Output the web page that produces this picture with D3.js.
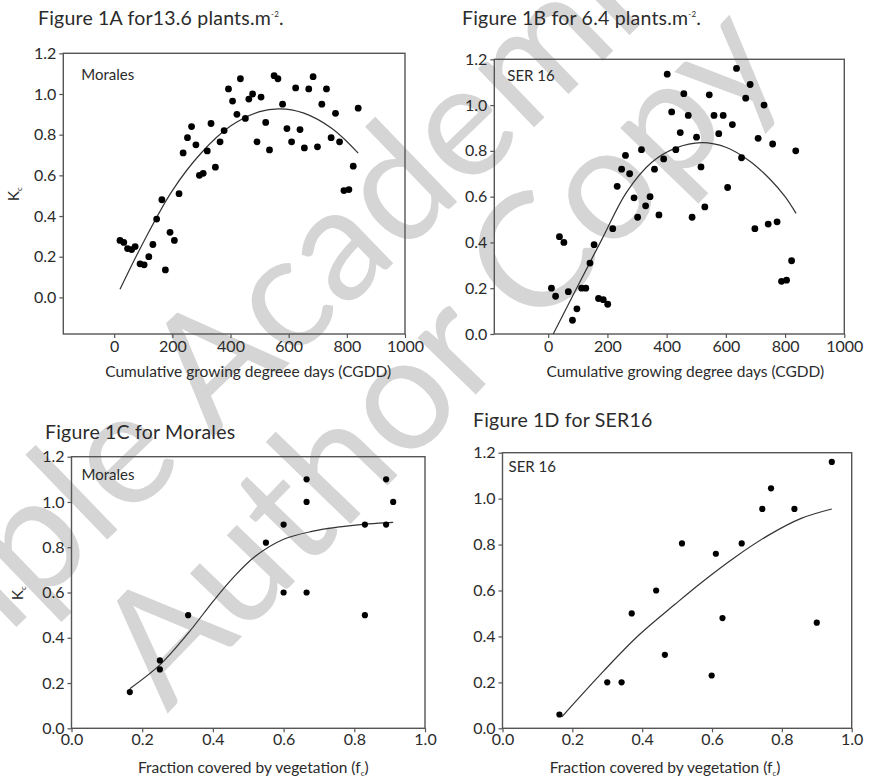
<!DOCTYPE html>
<html>
<head>
<meta charset="utf-8">
<script src="https://cdn.jsdelivr.net/npm/d3@7"></script>
<style>
  body { margin: 0; background: #fff; }
  svg { display: block; }
  text { font-family: Lato, "Open Sans", sans-serif; fill: #2b2b2b; }
</style>
</head>
<body>
<svg id="chart" width="869" height="779"></svg>
<script>

// ---- data ----
var kcTicks = [0, 0.2, 0.4, 0.6, 0.8, 1.0, 1.2];
var cgddTicks = [0, 200, 400, 600, 800, 1000];
var fcTicks = [0, 0.2, 0.4, 0.6, 0.8, 1.0];

// Figure 1A, Morales, 13.6 plants/m2
var cgddA = [20, 33, 46, 60, 72, 89, 103, 119, 133, 146, 164, 176, 192, 207, 223, 237, 252, 266, 281, 293,
  306, 320, 333, 348, 364, 378, 393, 407, 422, 434, 451, 463, 476, 491, 505, 521, 534, 550, 563, 579,
  594, 610, 624, 639, 654, 669, 684, 699, 714, 730, 746, 761, 775, 790, 807, 822, 839];
var kcA = [0.28, 0.27, 0.24, 0.235, 0.25, 0.165, 0.16, 0.20, 0.26, 0.385, 0.48, 0.135, 0.32, 0.28, 0.51, 0.71, 0.785, 0.84, 0.75, 0.60,
  0.61, 0.72, 0.855, 0.64, 0.765, 0.82, 1.025, 0.965, 0.90, 1.075, 0.88, 0.975, 1.0, 0.765, 0.985, 0.86, 0.725, 1.09, 1.075, 0.95,
  0.83, 0.765, 1.03, 0.825, 0.735, 1.025, 1.085, 0.74, 0.95, 1.025, 0.785, 0.905, 0.765, 0.525, 0.53, 0.645, 0.93];
var fitAx = [20, 100, 200, 300, 400, 500, 569, 650, 750, 839];
var fitAy = [0.04, 0.27, 0.525, 0.711, 0.842, 0.913, 0.927, 0.907, 0.829, 0.709];

// Figure 1B, SER 16, 6.4 plants/m2
var cgddB = [11, 25, 38, 53, 68, 82, 97, 113, 127, 141, 155, 170, 186, 201, 218, 233, 248, 261, 275, 290,
  302, 315, 329, 344, 359, 374, 390, 402, 417, 431, 446, 458, 473, 486, 501, 516, 529, 544, 560, 576,
  591, 606, 622, 636, 653, 667, 682, 698, 709, 729, 743, 758, 773, 788, 805, 822, 836];
var kcB = [0.20, 0.165, 0.425, 0.40, 0.185, 0.06, 0.11, 0.20, 0.20, 0.31, 0.39, 0.155, 0.15, 0.13, 0.46, 0.645, 0.72, 0.78, 0.70, 0.595,
  0.51, 0.805, 0.56, 0.60, 0.72, 0.52, 0.765, 1.135, 0.97, 0.805, 0.88, 1.05, 0.955, 0.51, 0.86, 0.73, 0.555, 1.045, 0.955, 0.875,
  0.955, 0.64, 0.915, 1.16, 0.77, 1.03, 1.09, 0.46, 0.855, 1.0, 0.48, 0.83, 0.49, 0.23, 0.235, 0.32, 0.80];
var fitBx = [17, 96, 180, 265, 350, 430, 518, 600, 680, 750, 800, 837];
var fitBy = [0.0, 0.2, 0.41, 0.62, 0.75, 0.812, 0.836, 0.816, 0.756, 0.675, 0.60, 0.527];

// Figure 1C, Morales, Kc against fraction cover
var fcC = [0.165, 0.25, 0.25, 0.33, 0.55, 0.60, 0.60, 0.665, 0.665, 0.665, 0.83, 0.83, 0.89, 0.89, 0.91];
var kcC = [0.16, 0.30, 0.26, 0.50, 0.82, 0.90, 0.60, 1.10, 1.00, 0.60, 0.90, 0.50, 1.10, 0.90, 1.00];
var fitCx = [0.165, 0.25, 0.33, 0.40, 0.46, 0.52, 0.60, 0.68, 0.76, 0.84, 0.91];
var fitCy = [0.175, 0.28, 0.42, 0.56, 0.67, 0.76, 0.835, 0.87, 0.89, 0.903, 0.91];

// Figure 1D, SER 16, Kc against fraction cover
var fcD = [0.163, 0.30, 0.341, 0.37, 0.44, 0.465, 0.514, 0.599, 0.611, 0.63, 0.685, 0.744, 0.769, 0.836, 0.90, 0.943];
var kcD = [0.06, 0.20, 0.20, 0.50, 0.60, 0.32, 0.805, 0.23, 0.76, 0.48, 0.805, 0.955, 1.045, 0.955, 0.46, 1.16];
var fitDx = [0.17, 0.29, 0.39, 0.494, 0.57, 0.666, 0.761, 0.857, 0.943];
var fitDy = [0.05, 0.25, 0.405, 0.54, 0.635, 0.745, 0.84, 0.915, 0.955];

var svg = d3.select("#chart");

// faint watermark that sits behind the figure
var wm = svg.append("g").attr("class", "watermark");
wm.append("text")
    .attr("transform", "translate(262,390) rotate(-44)")
    .attr("text-anchor", "middle")
    .style("font-size", "160px")
    .style("fill", "#d5d5d5")
    .text("Sample Academic");
wm.append("text")
    .attr("transform", "translate(478,392) rotate(-46)")
    .attr("text-anchor", "middle")
    .style("font-size", "160px")
    .style("fill", "#d5d5d5")
    .text("Author Copy");

function zip(xs, ys) {
  return xs.map(function(x, i) { return {x: x, y: ys[i]}; });
}

function drawPanel(p) {
  var x = d3.scaleLinear().domain(p.xDomain).range(p.xRange);
  var y = d3.scaleLinear().domain(p.yDomain).range(p.yRange);
  var g = svg.append("g");

  // frame
  g.append("rect")
      .attr("x", p.xRange[0]).attr("y", p.yRange[1])
      .attr("width", p.xRange[1] - p.xRange[0])
      .attr("height", p.yRange[0] - p.yRange[1])
      .attr("fill", "none")
      .attr("stroke", "#555")
      .attr("stroke-width", 1.4);

  var xAxis = g.append("g")
      .attr("transform", "translate(0," + p.yRange[0] + ")")
      .call(d3.axisBottom(x).tickValues(p.xTicks).tickFormat(p.xFormat).tickSizeInner(4).tickSizeOuter(0).tickPadding(p.xPad));
  var yAxis = g.append("g")
      .attr("transform", "translate(" + p.xRange[0] + ",0)")
      .call(d3.axisLeft(y).tickValues(kcTicks).tickFormat(d3.format(".1f")).tickSizeInner(4).tickSizeOuter(0).tickPadding(3));
  [xAxis, yAxis].forEach(function(a) {
    a.select(".domain").remove();
    a.selectAll("line").attr("stroke", "#555").attr("stroke-width", 1.2);
    a.selectAll("text")
        .attr("font-family", "Lato, sans-serif")
        .attr("font-size", "16px")
        .attr("fill", "#333");
  });

  // fitted curve
  g.append("path")
      .datum(zip(p.fitX, p.fitY))
      .attr("fill", "none")
      .attr("stroke", "#333")
      .attr("stroke-width", 1.2)
      .attr("d", d3.line()
          .x(function(d) { return x(d.x); })
          .y(function(d) { return y(d.y); })
          .curve(d3.curveCatmullRom));

  // observations
  g.selectAll(".dot")
      .data(zip(p.xs, p.ys))
      .enter().append("circle")
      .attr("cx", function(d) { return x(d.x); })
      .attr("cy", function(d) { return y(d.y); })
      .attr("r", p.r)
      .attr("fill", "#000");

  // variety label inside the frame
  g.append("text")
      .attr("x", p.xRange[0] + p.labelDx)
      .attr("y", p.yRange[1] + p.labelDy)
      .attr("font-size", "15px")
      .attr("fill", "#333")
      .text(p.variety);

  // title above the panel
  var t = g.append("text")
      .attr("x", p.titleX)
      .attr("y", p.titleY)
      .attr("font-size", "19.5px")
      .attr("letter-spacing", "0.2px")
      .attr("fill", "#222");
  t.append("tspan").text(p.title);
  if (p.titleUnit) {
    t.append("tspan").text("m");
    t.append("tspan").attr("font-size", "8px").attr("dy", -8).text("-2");
    t.append("tspan").attr("dy", 8).text(".");
  }

  // x axis title
  var xt = g.append("text")
      .attr("x", (p.xRange[0] + p.xRange[1]) / 2 + p.xTitleDx)
      .attr("y", p.yRange[0] + p.xTitleDy)
      .attr("text-anchor", "middle")
      .attr("font-size", "15.5px")
      .attr("fill", "#333");
  xt.append("tspan").text(p.xTitle);
  if (p.xTitleSub) {
    xt.append("tspan").attr("font-size", "8px").attr("dy", 3).text("c");
    xt.append("tspan").attr("dy", -3).text(")");
  }

  // y axis title (Kc), only on the left column
  if (p.yTitle) {
    var yt = g.append("text")
        .attr("transform", "translate(" + p.yTitleX + "," + p.yTitleY + ") rotate(-90)")
        .attr("text-anchor", "middle")
        .attr("font-size", "15px")
        .attr("fill", "#333");
    yt.append("tspan").text("K");
    yt.append("tspan").attr("font-size", "8px").attr("dy", 3).text("c");
  }
}

drawPanel({
  xs: cgddA, ys: kcA, fitX: fitAx, fitY: fitAy, r: 3.4,
  xDomain: [-175, 1000], xRange: [63.3, 405], yDomain: [-0.18, 1.2], yRange: [334, 53.3],
  xTicks: cgddTicks, xFormat: d3.format("d"), xPad: 3,
  variety: "Morales", labelDx: 18, labelDy: 27,
  title: "Figure 1A for13.6 plants.", titleUnit: true, titleX: 38, titleY: 25,
  xTitle: "Cumulative growing degreee days (CGDD)", xTitleDx: 14, xTitleDy: 43,
  yTitle: true, yTitleX: 19, yTitleY: 194
});

drawPanel({
  xs: cgddB, ys: kcB, fitX: fitBx, fitY: fitBy, r: 3.4,
  xDomain: [-182, 1000], xRange: [494.3, 844.3], yDomain: [0, 1.2], yRange: [334, 59.3],
  xTicks: cgddTicks, xFormat: d3.format("d"), xPad: 3,
  variety: "SER 16", labelDx: 13, labelDy: 22,
  title: "Figure 1B for 6.4 plants.", titleUnit: true, titleX: 462, titleY: 25,
  xTitle: "Cumulative growing degree days (CGDD)", xTitleDx: 16, xTitleDy: 43,
  yTitle: false
});

drawPanel({
  xs: fcC, ys: kcC, fitX: fitCx, fitY: fitCy, r: 3.1,
  xDomain: [0, 1], xRange: [71.5, 425], yDomain: [0, 1.2], yRange: [728.3, 456.7],
  xTicks: fcTicks, xFormat: d3.format(".1f"), xPad: 1,
  variety: "Morales", labelDx: 10, labelDy: 23,
  title: "Figure 1C for Morales", titleUnit: false, titleX: 45, titleY: 439,
  xTitle: "Fraction covered by vegetation (f", xTitleSub: true, xTitleDx: 5, xTitleDy: 45,
  yTitle: true, yTitleX: 23, yTitleY: 593
});

drawPanel({
  xs: fcD, ys: kcD, fitX: fitDx, fitY: fitDy, r: 3.1,
  xDomain: [0, 1], xRange: [502.5, 851.7], yDomain: [0, 1.2], yRange: [728.3, 452.7],
  xTicks: fcTicks, xFormat: d3.format(".1f"), xPad: 1,
  variety: "SER 16", labelDx: 6, labelDy: 19,
  title: "Figure 1D for SER16", titleUnit: false, titleX: 473, titleY: 427,
  xTitle: "Fraction covered by vegetation (f", xTitleSub: true, xTitleDx: -12, xTitleDy: 45,
  yTitle: false
});

</script>
</body>
</html>
